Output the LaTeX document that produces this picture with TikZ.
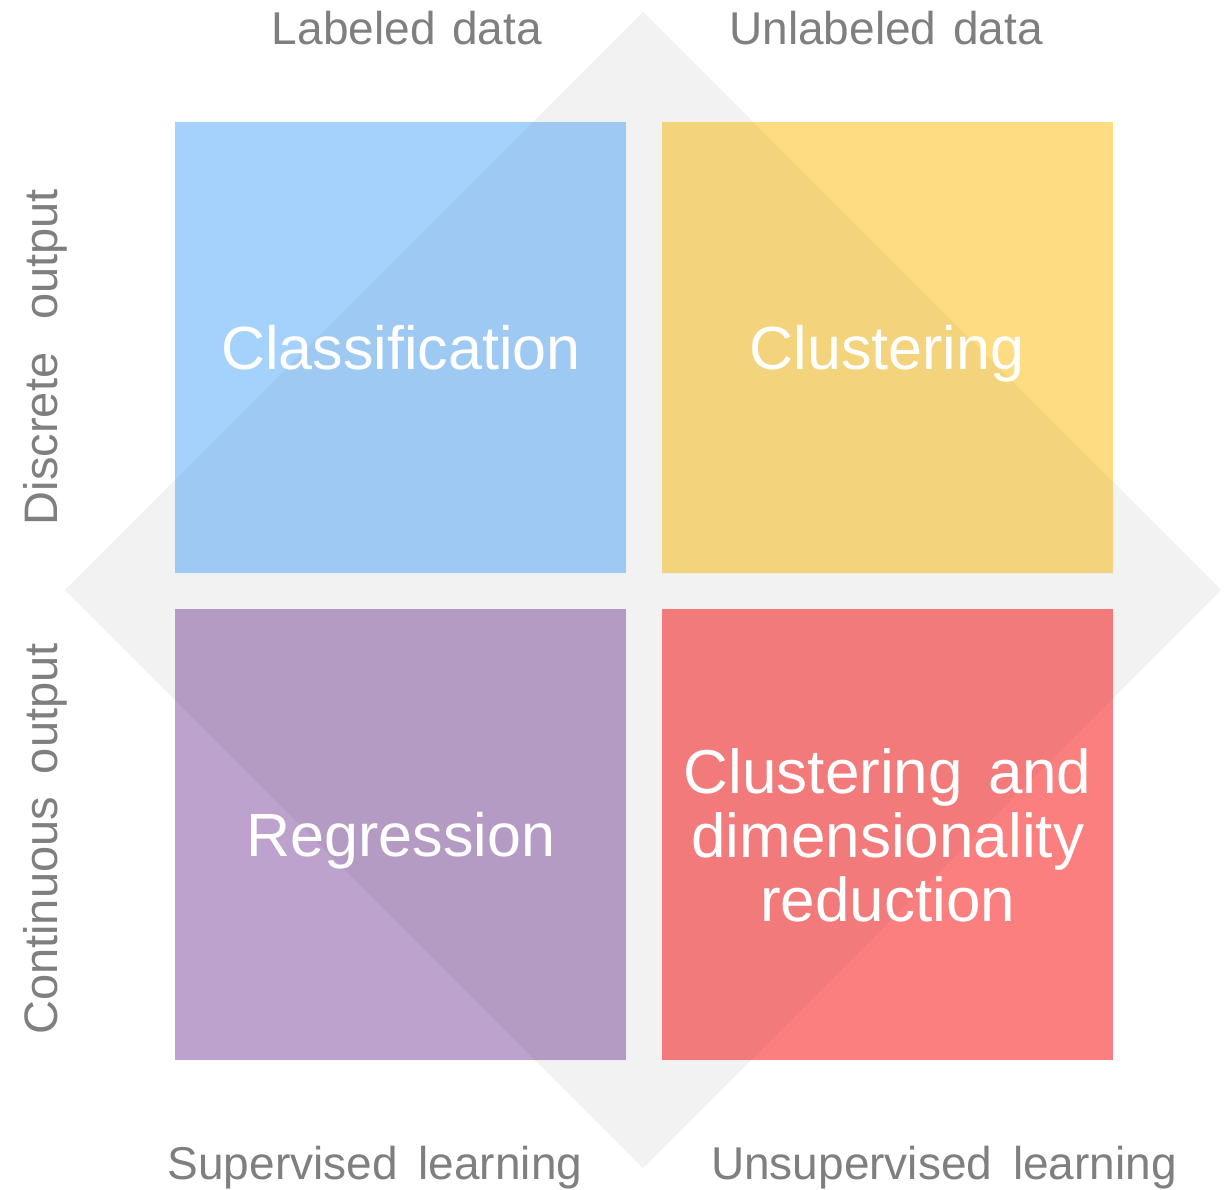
\documentclass[tikz,border=0pt]{standalone}
\usepackage{fontspec}
\setmainfont{Liberation Sans}
\definecolor{cblue}{HTML}{A5D2FC}
\definecolor{cyellow}{HTML}{FDDC82}
\definecolor{cpurple}{HTML}{BCA2CC}
\definecolor{cred}{HTML}{FC7F7F}
\definecolor{diamondgray}{HTML}{F2F2F2}
\definecolor{labelgray}{HTML}{7F7F7F}
\begin{document}
\begin{tikzpicture}[x=1pt,y=1pt,
  quad/.style={draw=none, inner sep=0pt, minimum width=451pt, minimum height=451pt, anchor=north west},
  qtext/.style={text=white, inner sep=0pt, anchor=base, font=\fontsize{61}{65}\selectfont, align=center},
  axlabel/.style={text=labelgray, inner sep=0pt, anchor=base, font=\fontsize{46}{50}\selectfont}]
\useasboundingbox (0,0) rectangle (1227,-1190);
\fill[white] (0,0) rectangle (1227,-1190);
% diamond
\coordinate (dt) at (643,-12);
\coordinate (dr) at (1221,-590);
\coordinate (db) at (643,-1168);
\coordinate (dl) at (65,-590);
\fill[diamondgray] (dt) -- (dr) -- (db) -- (dl) -- cycle;
% quadrants
\node[quad, fill=cblue] (q1) at (175,-122) {};
\node[quad, fill=cyellow] (q2) at (662,-122) {};
\node[quad, fill=cpurple] (q3) at (175,-609) {};
\node[quad, fill=cred] (q4) at (662,-609) {};
% diamond shading over the quadrants
\begin{scope}
\clip (q1.north west) rectangle (q1.south east)
      (q2.north west) rectangle (q2.south east)
      (q3.north west) rectangle (q3.south east)
      (q4.north west) rectangle (q4.south east);
\fill[black, fill opacity=0.04] (dt) -- (dr) -- (db) -- (dl) -- cycle;
\end{scope}
% quadrant texts
\node[qtext] (t1) at (401,-370) {Classification};
\node[qtext] (t2) at (887,-370) {Clustering};
\node[qtext] (t3) at (401,-856) {Regression};
\node[qtext, anchor=center, font=\fontsize{62}{64}\selectfont] (t4) at ([yshift=-1pt]q4.center) {Clustering\hspace{8pt} and\\dimensionality\\reduction};
% axis labels
\node[axlabel] (l1) at (407,-45) {Labeled\hspace{4pt} data};
\node[axlabel] (l2) at (886,-45) {Unlabeled\hspace{4pt} data};
\node[axlabel] (l3) at (375,-1179) {Supervised\hspace{8pt} learning};
\node[axlabel] (l4) at (944,-1179) {Unsupervised\hspace{8pt} learning};
\node[axlabel, font=\fontsize{47}{50}\selectfont, rotate=90] (l5) at (57,-357) {Discrete\hspace{20pt} output};
\node[axlabel, font=\fontsize{47}{50}\selectfont, rotate=90] (l6) at (57,-839) {Continuous\hspace{10pt} output};
\end{tikzpicture}
\end{document}
